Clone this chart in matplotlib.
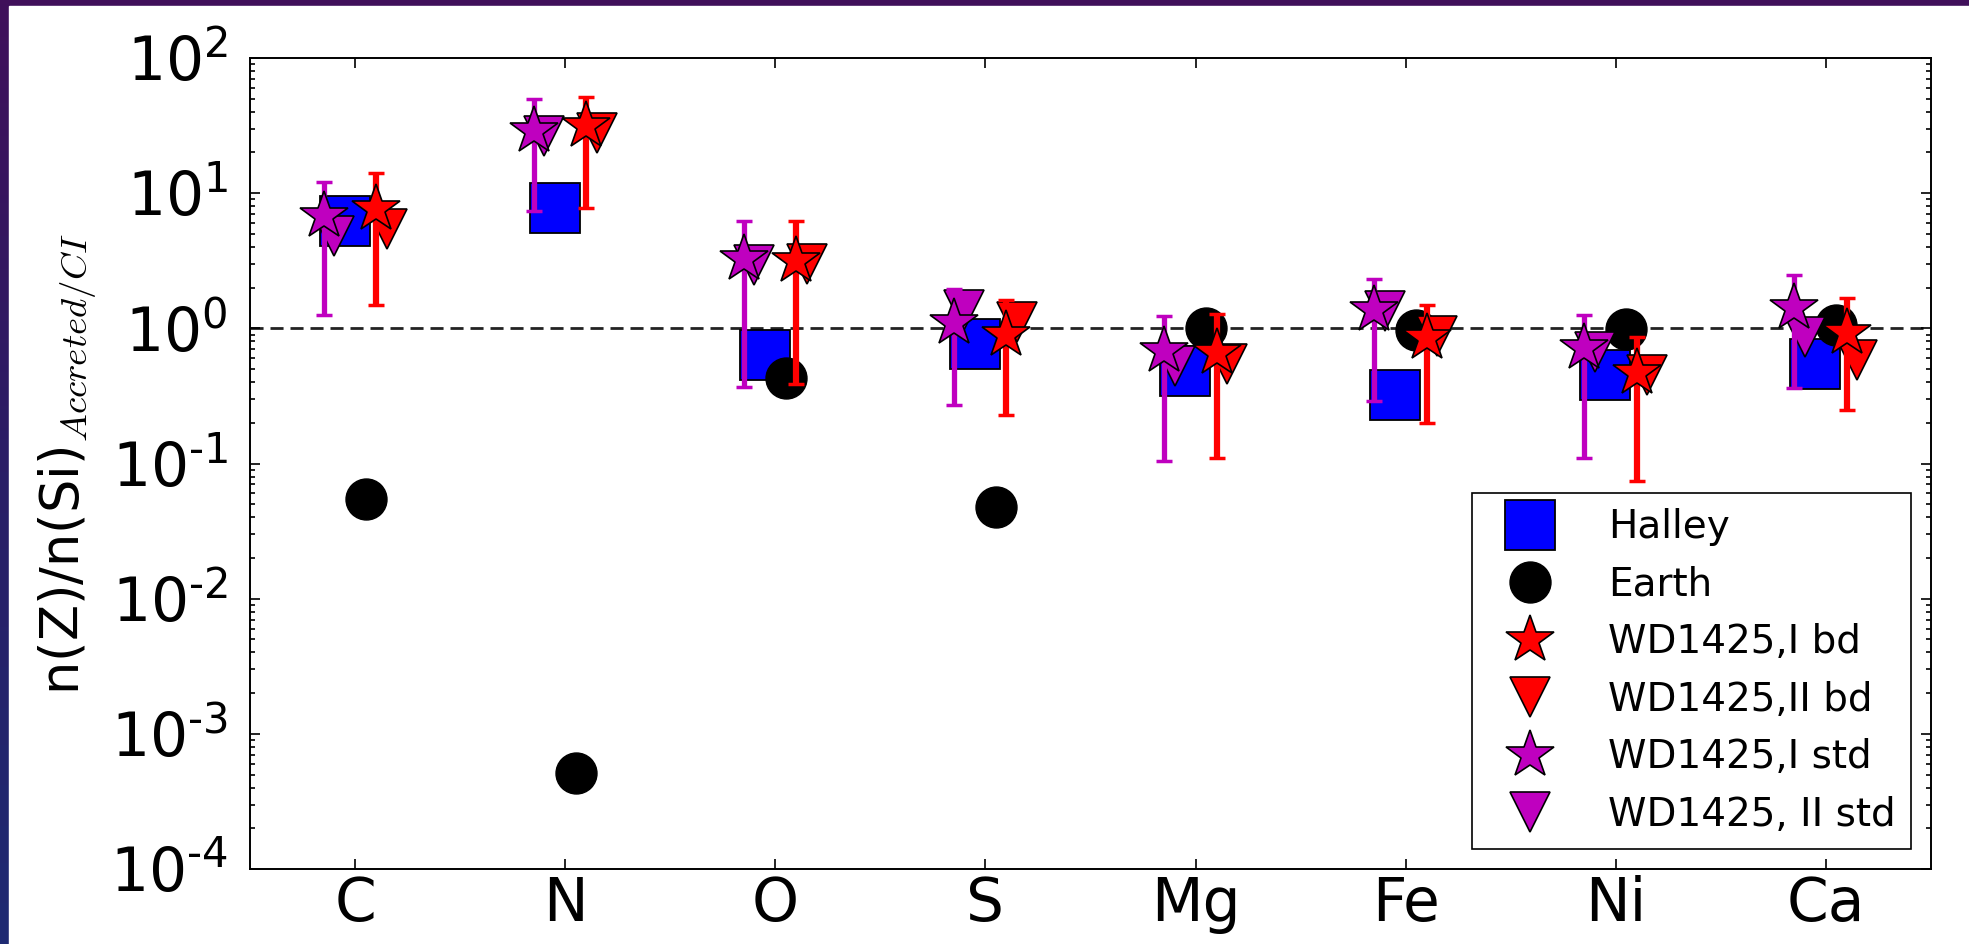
import matplotlib.pyplot as plt
import numpy as np
from matplotlib.patches import Rectangle
from matplotlib.colors import LinearSegmentedColormap
from matplotlib.ticker import FuncFormatter

elements = ['C', 'N', 'O', 'S', 'Mg', 'Fe', 'Ni', 'Ca']
decades = [1e-4, 1e-3, 1e-2, 1e-1, 1e0, 1e1, 1e2]

halley = [6.2, 7.8, 0.63, 0.77, 0.48, 0.32, 0.45, 0.54]
earth = [0.055, 5.1e-4, 0.43, 0.048, 1.0, 0.97, 0.99, 1.06]

# WD1425 accreted abundances, bd = bulk, std = standard
wd_I_bd = [7.6, 31.4, 3.13, 0.90, 0.66, 0.85, 0.47, 0.92]
wd_I_bd_lo = [1.48, 7.8, 0.387, 0.23, 0.11, 0.198, 0.0736, 0.25]
wd_I_bd_hi = [14.1, 51.7, 6.2, 1.61, 1.28, 1.48, 0.86, 1.68]
wd_II_bd = [5.4, 28.0, 3.0, 1.11, 0.54, 0.87, 0.45, 0.58]

wd_I_std = [6.76, 28.8, 3.23, 1.10, 0.676, 1.37, 0.71, 1.41]
wd_I_std_lo = [1.26, 7.4, 0.37, 0.27, 0.105, 0.29, 0.109, 0.36]
wd_I_std_hi = [12.1, 50.0, 6.2, 1.97, 1.23, 2.31, 1.26, 2.5]
wd_II_std = [4.8, 26.4, 2.93, 1.36, 0.53, 1.34, 0.67, 0.86]

plt.rcParams['mathtext.fontset'] = 'cm'


def decade_label(v, pos):
    # short hyphen in the exponent instead of a full minus sign
    e = int(round(np.log10(v)))
    return r'$\mathdefault{10^{%s}}$' % str(e).replace('-', '\u2010')


fig = plt.figure(figsize=(19.69, 9.44), dpi=100)

# slide background with white panel
bg = fig.add_axes([0, 0, 1, 1], zorder=-5)
slide = LinearSegmentedColormap.from_list('slide', ['#40105a', '#2a1e66', '#1e2a72'])
bg.imshow(np.linspace(0, 1, 256)[:, None], cmap=slide, aspect='auto', extent=[0, 1, 0, 1])
bg.add_patch(Rectangle((9 / 1969, 0), 1, 1 - 6 / 944, color='white'))
bg.set_xlim(0, 1)
bg.set_ylim(0, 1)
bg.set_axis_off()

ax = fig.add_axes([0.127, 0.0794, 0.8537, 0.8592])

x = np.arange(1, len(elements) + 1)
mag = '#bf00bf'

ax.plot(x - 0.05, halley, 's', color='b', mec='k', mew=1.3, ms=36, label='Halley', zorder=2)
ax.plot(x + 0.05, earth, 'o', color='k', mec='k', ms=29.5, label='Earth', zorder=2.5)

yerr_bd = [np.array(wd_I_bd) - wd_I_bd_lo, np.array(wd_I_bd_hi) - wd_I_bd]
yerr_std = [np.array(wd_I_std) - wd_I_std_lo, np.array(wd_I_std_hi) - wd_I_std]
ax.errorbar(x + 0.1, wd_I_bd, yerr=yerr_bd, fmt='none', ecolor='r', elinewidth=4.5,
            capsize=6, capthick=2.5, zorder=3.5)
ax.errorbar(x - 0.15, wd_I_std, yerr=yerr_std, fmt='none', ecolor=mag, elinewidth=3.8,
            capsize=6, capthick=2.5, zorder=3.5)

ax.plot(x + 0.1, wd_I_bd, '*', color='r', mec='k', mew=1.2, ms=36, label='WD1425,I bd', zorder=4)
ax.plot(x + 0.15, wd_II_bd, 'v', color='r', mec='k', mew=1.2, ms=29, label='WD1425,II bd', zorder=3)
ax.plot(x - 0.15, wd_I_std, '*', color=mag, mec='k', mew=1.2, ms=36, label='WD1425,I std', zorder=4)
ax.plot(x - 0.1, wd_II_std, 'v', color=mag, mec='k', mew=1.2, ms=29, label='WD1425, II std', zorder=3)

ax.axhline(1, color='#222222', lw=2, ls=(0, (4.7, 2.5)), zorder=1)

ax.set_yscale('log')
ax.set_ylim(1e-4, 1e2)
ax.set_yticks(decades)
ax.set_xlim(0.5, 8.5)
ax.set_xticks(x)
ax.set_xticklabels(elements)
ax.yaxis.set_major_formatter(FuncFormatter(decade_label))

for s in ax.spines.values():
    s.set_linewidth(1.4)
ax.tick_params(which='both', direction='in', top=True, right=True, width=1.2)
ax.tick_params(which='major', length=7)
ax.tick_params(which='minor', length=3.5)
ax.tick_params(axis='x', labelsize=43, pad=4)
ax.tick_params(axis='y', labelsize=43, pad=16)

ax.set_ylabel(r'n(Z)/n(Si)$_{Accreted/CI}$', fontsize=38)
ax.yaxis.set_label_coords(-0.09, 0.5)

leg = ax.legend(loc='lower right', numpoints=1, fontsize=28, fancybox=False,
                framealpha=1, edgecolor='k', labelspacing=0.5, borderpad=0.4,
                handlelength=2.2, handletextpad=0.9, borderaxespad=0.51)
leg.get_frame().set_linewidth(1.2)

fig.savefig('out.png', dpi=100)
